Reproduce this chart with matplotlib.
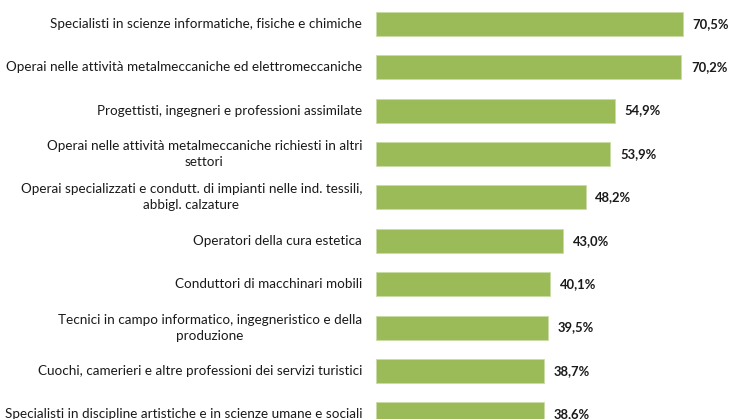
import matplotlib.pyplot as plt

plt.rcParams['font.family'] = ['Lato', 'DejaVu Sans']

# categories top to bottom
categories = [
    "Specialisti in scienze informatiche, fisiche e chimiche",
    "Operai nelle attività metalmeccaniche ed elettromeccaniche",
    "Progettisti, ingegneri e professioni assimilate",
    "Operai nelle attività metalmeccaniche richiesti in altri\nsettori",
    "Operai specializzati e condutt. di impianti nelle ind. tessili,\nabbigl. calzature",
    "Operatori della cura estetica",
    "Conduttori di macchinari mobili",
    "Tecnici in campo informatico, ingegneristico e della\nproduzione",
    "Cuochi, camerieri e altre professioni dei servizi turistici",
    "Specialisti in discipline artistiche e in scienze umane e sociali",
]
values = [70.5, 70.2, 54.9, 53.9, 48.2, 43.0, 40.1, 39.5, 38.7, 38.6]
value_labels = ["70,5%", "70,2%", "54,9%", "53,9%", "48,2%", "43,0%", "40,1%", "39,5%", "38,7%", "38,6%"]

W, H = 729, 419
fig = plt.figure(figsize=(W / 100, H / 100), dpi=100)
left = 376 / W
ax = fig.add_axes([left, 0, 1 - left, 1])

pos = list(range(len(categories)))
ax.barh(pos, values, height=0.553, color='#9BBB59', edgecolor='#c9dca6', linewidth=0.6)

for p, v, lab in zip(pos, values, value_labels):
    ax.text(v + 2.2, p, lab, va='center', ha='left', fontsize=9.4,
            fontweight='bold', color='#1a1a1a')

for p, c in zip(pos, categories):
    ax.text(-3.2, p, c, va='center', ha='right', multialignment='center',
            fontsize=9.75, color='#1a1a1a', linespacing=1.4)

ax.set_xlim(0, (W - 376) / 4.35)
ax.set_ylim(9.108, -0.546)
ax.axis('off')

fig.savefig('out.png', dpi=100)
